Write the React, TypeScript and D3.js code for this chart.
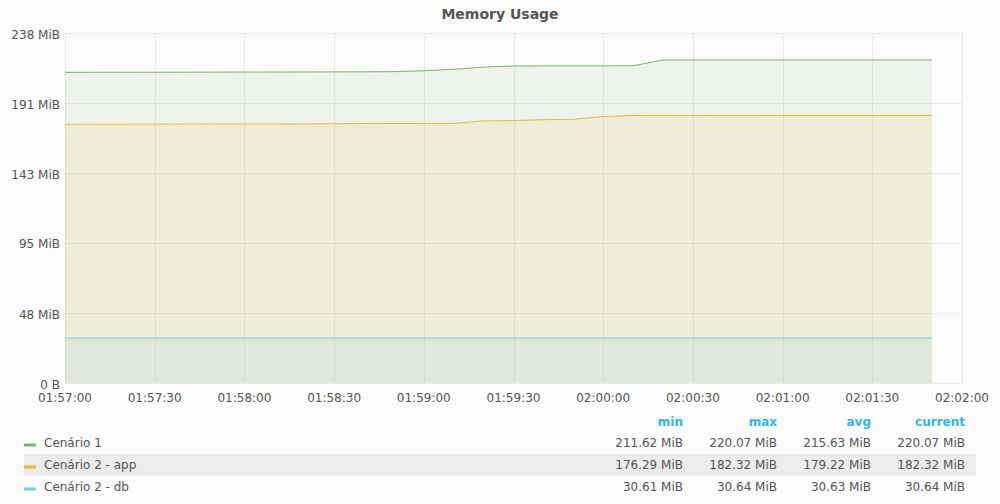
import React, { useEffect } from "react";
import * as d3 from "d3";

const START = Date.UTC(2020, 0, 1, 1, 57, 0);
const STEP_S = 10;

const seriesNames = ["Cenário 1", "Cenário 2 - app", "Cenário 2 - db"];
const seriesColors = ["#7EB26D", "#EAB839", "#6ED0E0"];

const cenario1 = [211.62, 211.64, 211.67, 211.7, 211.73, 211.76, 211.8, 211.84, 211.88, 211.92, 211.98, 212.1, 212.7, 213.7, 215.2, 215.95, 216.0, 216.0, 216.0, 216.1, 220.0, 220.03, 220.05, 220.05, 220.06, 220.06, 220.07, 220.07, 220.07, 220.07];
const cenario2App = [176.29, 176.32, 176.35, 176.38, 176.4, 176.42, 176.45, 176.48, 176.5, 176.55, 176.7, 176.75, 176.78, 176.8, 178.6, 178.7, 179.4, 179.6, 181.6, 182.2, 182.25, 182.28, 182.3, 182.3, 182.31, 182.31, 182.32, 182.32, 182.32, 182.32];
const cenario2Db = [30.61, 30.61, 30.62, 30.62, 30.62, 30.62, 30.63, 30.63, 30.63, 30.63, 30.63, 30.63, 30.63, 30.63, 30.63, 30.63, 30.63, 30.64, 30.64, 30.64, 30.64, 30.64, 30.64, 30.64, 30.64, 30.64, 30.64, 30.64, 30.64, 30.64];

const yTickValues = [0, 47.68, 95.37, 143.05, 190.73, 238.42];
const yTickLabels = ["0 B", "48 MiB", "95 MiB", "143 MiB", "191 MiB", "238 MiB"];

const legendHeaders = ["min", "max", "avg", "current"];
const legendMin = ["211.62 MiB", "176.29 MiB", "30.61 MiB"];
const legendMax = ["220.07 MiB", "182.32 MiB", "30.64 MiB"];
const legendAvg = ["215.63 MiB", "179.22 MiB", "30.63 MiB"];
const legendCurrent = ["220.07 MiB", "182.32 MiB", "30.64 MiB"];

const W = 1000;
const H = 504;
const M = { left: 65, right: 962, top: 33, bottom: 383 };
const FONT = "DejaVu Sans, sans-serif";
const TXT = "#555555";

export default function App() {
  useEffect(() => {
    document.body.style.margin = "0";
  }, []);

  const allSeries = [cenario1, cenario2App, cenario2Db];
  const toPoints = (vals: number[]) =>
    vals.map((v, i) => ({ t: new Date(START + i * STEP_S * 1000), v }));

  const x = d3
    .scaleUtc()
    .domain([new Date(START), new Date(START + 300 * 1000)])
    .range([M.left, M.right]);
  const y = d3.scaleLinear().domain([0, 238.42]).range([M.bottom, M.top]);

  const xTicks = d3.range(0, 11).map((i) => new Date(START + i * 30 * 1000));
  const fmt = d3.utcFormat("%H:%M:%S");

  const line = d3
    .line<{ t: Date; v: number }>()
    .x((d) => x(d.t))
    .y((d) => y(d.v));
  const area = d3
    .area<{ t: Date; v: number }>()
    .x((d) => x(d.t))
    .y0(y(0))
    .y1((d) => y(d.v));

  const colX = [683, 777, 871, 965];
  const colVals = [legendMin, legendMax, legendAvg, legendCurrent];
  const rowY = [447, 469, 491];

  return (
    <svg
      width={W}
      height={H}
      style={{ position: "absolute", left: 0, top: 0, background: "#fbfbfb" }}
      fontFamily={FONT}
    >
      <rect x={0} y={0} width={W} height={H} fill="#fbfbfb" />
      <text x={W / 2} y={19} textAnchor="middle" fontSize={14} fontWeight="bold" fill={TXT}>
        Memory Usage
      </text>

      {/* grid */}
      <g>
        {yTickValues.map((v, i) => (
          <line key={"gy" + i} x1={M.left} x2={M.right} y1={Math.round(y(v)) + 0.5} y2={Math.round(y(v)) + 0.5} stroke="#e9e9e9" strokeWidth={1} />
        ))}
        {xTicks.map((t, i) => (
          <line key={"gx" + i} x1={Math.round(x(t)) + 0.5} x2={Math.round(x(t)) + 0.5} y1={M.top} y2={M.bottom} stroke="#e9e9e9" strokeWidth={1} />
        ))}
      </g>

      {/* areas */}
      {allSeries.map((s, i) => (
        <path key={"a" + i} d={area(toPoints(s)) || ""} fill={seriesColors[i]} fillOpacity={0.1} stroke="none" />
      ))}
      {allSeries.map((s, i) => (
        <path key={"l" + i} d={line(toPoints(s)) || ""} fill="none" stroke={seriesColors[i]} strokeWidth={1} />
      ))}

      {/* y axis labels */}
      {yTickValues.map((v, i) => (
        <text key={"yl" + i} x={60} y={y(v) + 5.5} textAnchor="end" fontSize={12} fill={TXT}>
          {yTickLabels[i]}
        </text>
      ))}
      {/* x axis labels */}
      {xTicks.map((t, i) => (
        <text key={"xl" + i} x={x(t)} y={402} textAnchor="middle" fontSize={12} fill={TXT}>
          {fmt(t)}
        </text>
      ))}

      {/* legend */}
      <rect x={24} y={454} width={952} height={21.5} fill="#ececec" />
      {legendHeaders.map((h, i) => (
        <text key={"h" + i} x={colX[i]} y={426} textAnchor="end" fontSize={12} fontWeight="bold" fill="#33b5e5">
          {h}
        </text>
      ))}
      {seriesNames.map((n, r) => (
        <g key={"row" + r}>
          <line x1={24} x2={36} y1={rowY[r] - 2} y2={rowY[r] - 2} stroke={seriesColors[r]} strokeWidth={3} />
          <text x={44} y={rowY[r]} fontSize={12} fill={TXT}>
            {n}
          </text>
          {colVals.map((col, c) => (
            <text key={"v" + c} x={colX[c]} y={rowY[r]} textAnchor="end" fontSize={12} fill={TXT}>
              {col[r]}
            </text>
          ))}
        </g>
      ))}
    </svg>
  );
}
